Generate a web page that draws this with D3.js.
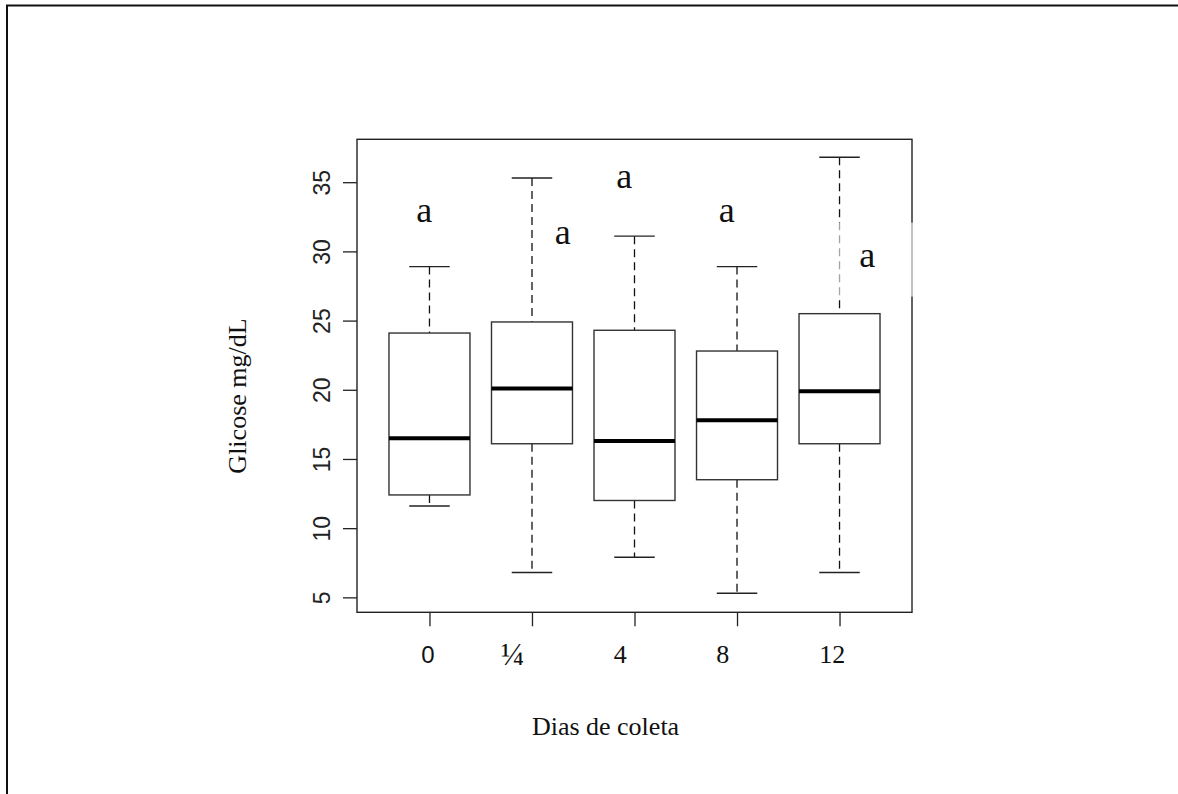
<!DOCTYPE html>
<html>
<head>
<meta charset="utf-8">
<script src="https://cdn.jsdelivr.net/npm/d3@7"></script>
<style>
  body { margin:0; background:#fff; }
  svg { display:block; }
</style>
</head>
<body>
<div id="chart"></div>
<script>
// dias de coleta
var dias    = ["0", "\u00BC", "4", "8", "12"];
// box stats
var whiskLo = [11.6, 6.8, 7.9, 5.3, 6.8];
var q1      = [12.4, 16.1, 12.0, 13.5, 16.1];
var mediana = [16.5, 20.1, 16.3, 17.8, 19.9];
var q3      = [24.1, 24.9, 24.3, 22.8, 25.5];
var whiskHi = [28.9, 35.3, 31.1, 28.9, 36.8];
// letras de significancia
var letras  = ["a", "a", "a", "a", "a"];
var letraY  = [32.1, 30.5, 34.6, 32.1, 28.9];
var letraDx = [-0.05, 0.30, -0.10, -0.10, 0.27];
var yTicks  = [5, 10, 15, 20, 25, 30, 35];
// rotulos colados por cima no original: deslocamento em fracao do passo
var labDx   = [-0.015, -0.19, -0.14, -0.14, -0.07];

var SERIF = "Liberation Serif",
    SANS  = "Liberation Sans";

var W = 1178, H = 794;
var margin = {top: 139.3, right: 266, bottom: 181.7, left: 357},
    width  = W - margin.left - margin.right,
    height = H - margin.top - margin.bottom;

var x = d3.scalePoint().domain(dias).range([0, width]).padding(0.707);
var y = d3.scaleLinear().domain([3.92, 38.1]).range([height, 0]);
var step = x.step(),
    boxW = step * 0.79;

var svgRoot = d3.select("#chart").append("svg")
  .attr("width", W).attr("height", H);

// moldura externa
svgRoot.append("path")
  .attr("d", "M7," + H + "V5.5H" + W)
  .attr("fill", "none")
  .attr("stroke", "#111")
  .attr("stroke-width", 2);

var svg = svgRoot.append("g")
  .attr("transform", "translate(" + margin.left + "," + margin.top + ")");

var data = dias.map(function(d, i){
  return {dia: d, lo: whiskLo[i], q1: q1[i], med: mediana[i], q3: q3[i], hi: whiskHi[i]};
});

// eixo y (rotulos girados, estilo R)
var yAxis = d3.axisLeft(y).tickValues(yTicks).tickSize(14).tickSizeOuter(0);
var gy = svg.append("g").call(yAxis);
gy.select(".domain").remove();
gy.selectAll("line").attr("stroke", "#222").attr("stroke-width", 1.3);
gy.selectAll("text")
  .attr("x", 0).attr("dy", 0)
  .attr("transform", "translate(-27,0) rotate(-90)")
  .attr("text-anchor", "middle")
  .attr("font-family", SANS)
  .attr("font-size", 23)
  .attr("fill", "#222");

// eixo x: so os ticks, rotulos a parte
var xAxis = d3.axisBottom(x).tickSize(14).tickSizeOuter(0).tickFormat("");
var gx = svg.append("g").attr("transform", "translate(0," + height + ")").call(xAxis);
gx.select(".domain").remove();
gx.selectAll("line").attr("stroke", "#222").attr("stroke-width", 1.3);

svg.selectAll(".xlab").data(dias).enter().append("text")
  .attr("class", "xlab")
  .attr("x", function(d, i){ return x(d) + labDx[i] * step; })
  .attr("y", function(d){ return height + (d === "\u00BC" ? 53 : 51); })
  .attr("text-anchor", "middle")
  .attr("font-family", function(d){ return d === "0" ? SANS : SERIF; })
  .attr("font-size", function(d){ return d === "0" ? 24 : (d === "\u00BC" ? 31 : 26); })
  .attr("fill", "#111")
  .text(function(d){ return d; });

// whiskers
var box = svg.selectAll(".box").data(data).enter().append("g")
  .attr("class", "box")
  .attr("transform", function(d){ return "translate(" + x(d.dia) + ",0)"; });

box.append("line")
  .attr("x1", 0).attr("x2", 0)
  .attr("y1", function(d){ return y(d.hi); })
  .attr("y2", function(d){ return y(d.q3); })
  .attr("stroke", "#111").attr("stroke-width", 1.3)
  .attr("stroke-dasharray", "8,5");
box.append("line")
  .attr("x1", 0).attr("x2", 0)
  .attr("y1", function(d){ return y(d.q1); })
  .attr("y2", function(d){ return y(d.lo); })
  .attr("stroke", "#111").attr("stroke-width", 1.3)
  .attr("stroke-dasharray", "8,5");
// staples
box.selectAll(".cap").data(function(d){ return [d.hi, d.lo]; }).enter().append("line")
  .attr("x1", -boxW / 4).attr("x2", boxW / 4)
  .attr("y1", function(v){ return y(v); })
  .attr("y2", function(v){ return y(v); })
  .attr("stroke", "#222").attr("stroke-width", 1.4);

box.append("rect")
  .attr("x", -boxW / 2)
  .attr("width", boxW)
  .attr("y", function(d){ return y(d.q3); })
  .attr("height", function(d){ return y(d.q1) - y(d.q3); })
  .attr("fill", "#fff")
  .attr("stroke", "#333").attr("stroke-width", 1.4);

box.append("line")
  .attr("x1", -boxW / 2).attr("x2", boxW / 2)
  .attr("y1", function(d){ return y(d.med); })
  .attr("y2", function(d){ return y(d.med); })
  .attr("stroke", "#000").attr("stroke-width", 4);

// moldura do grafico
svg.append("rect")
  .attr("width", width).attr("height", height)
  .attr("fill", "none")
  .attr("stroke", "#222").attr("stroke-width", 1.4);

// caixa de texto colada por cima (apaga parte da borda)
var iLast = dias.length - 1;
svg.append("rect")
  .attr("x", x(dias[iLast]) - 5)
  .attr("width", width - x(dias[iLast]) + 6)
  .attr("y", y(letraY[iLast]) - 44)
  .attr("height", 74)
  .attr("fill", "#fff").attr("fill-opacity", 0.62);

// letras
svg.selectAll(".letra").data(letras).enter().append("text")
  .attr("class", "letra")
  .attr("x", function(d, i){ return x(dias[i]) + letraDx[i] * step; })
  .attr("y", function(d, i){ return y(letraY[i]); })
  .attr("text-anchor", "middle")
  .attr("font-family", SERIF)
  .attr("font-size", 36)
  .attr("fill", "#111")
  .text(function(d){ return d; });

// titulos
svgRoot.append("text")
  .attr("text-anchor", "middle")
  .attr("transform", "translate(605.5,735)")
  .attr("font-family", SERIF)
  .attr("font-size", 26)
  .attr("fill", "#111")
  .text("Dias de coleta");

svgRoot.append("text")
  .attr("text-anchor", "middle")
  .attr("transform", "translate(246,396)rotate(-90)")
  .attr("font-family", SERIF)
  .attr("font-size", 26)
  .attr("fill", "#111")
  .text("Glicose mg/dL");
</script>
</body>
</html>
